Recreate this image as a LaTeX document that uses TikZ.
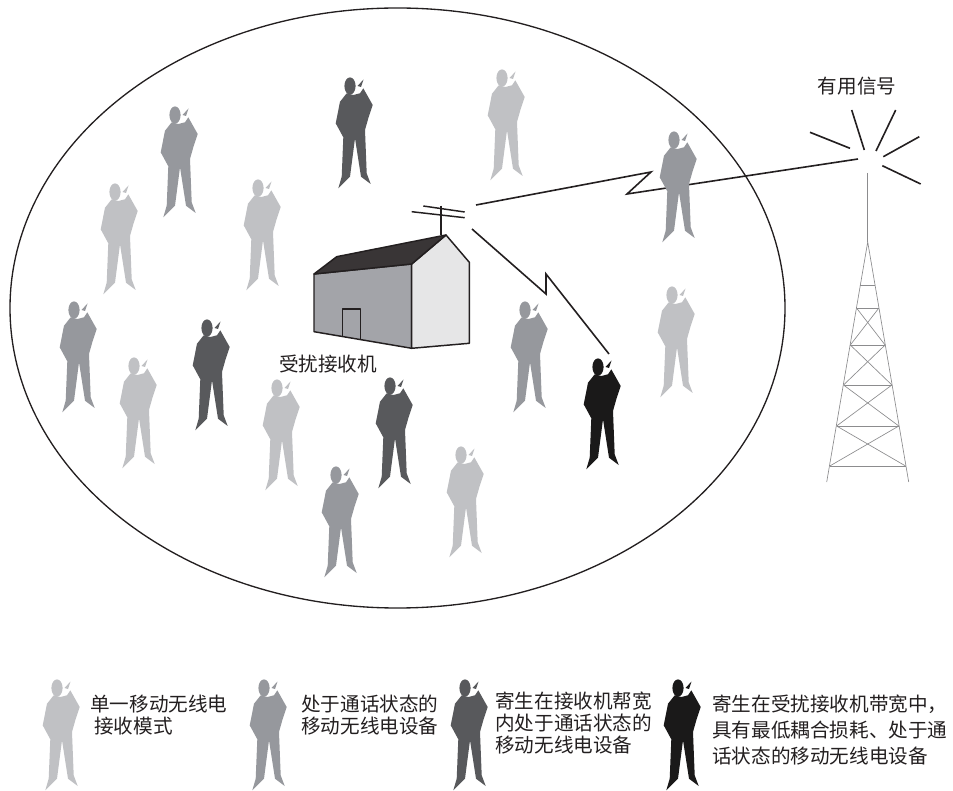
\documentclass[tikz,border=0pt]{standalone}
\usepackage{fontspec}
\usepackage{xcolor}
\setmainfont{Noto Sans CJK SC}
\usetikzlibrary{positioning}
\definecolor{lightcolor}{RGB}{192,193,196}
\definecolor{midcolor}{RGB}{150,152,157}
\definecolor{darkcolor}{RGB}{88,89,92}
\definecolor{blackcolor}{RGB}{26,25,25}
\definecolor{inkcolor}{RGB}{35,31,32}
\definecolor{towercolor}{RGB}{140,140,142}
\tikzset{
    person/.pic={
        \path[pic actions] (0,0) ellipse [x radius=5.6, y radius=8.6];
        \path[pic actions] (-3.3,7.3) -- (-10,15.7) -- (-14.3,37.3) -- (-6.7,51.3) -- (-8.3,90.7) -- (-11.7,102.3)
            -- (0,90.7) -- (5,52.3) -- (11,90.7) -- (20.7,98) -- (16.7,87.3) -- (15,44) -- (18.3,32.3) -- (22.7,19)
            -- (13.3,2.3) -- (10,7.3) -- (3.3,9) -- cycle;
        \path[pic actions] (7.5,0) -- (13.5,-6.5) -- (11,1) -- cycle;
    }
}
\begin{document}
\begin{tikzpicture}[
    x=0.75pt, y=-0.75pt,
    lightman/.style={fill=lightcolor},
    midman/.style={fill=midcolor},
    darkman/.style={fill=darkcolor},
    blackman/.style={fill=blackcolor},
    label/.style={font=\fontsize{14.7}{16.5}\selectfont, text=inkcolor, inner sep=0pt, align=left},
    signal/.style={draw=inkcolor, line width=1.2pt, line join=miter},
    house/.style={draw=inkcolor, line width=1.1pt, line join=round},
    tower/.style={draw=towercolor, line width=0.5pt}
]
\useasboundingbox (0,0) rectangle (953,791);

% Coverage area
\draw[inkcolor, line width=1pt] (397.5,308) ellipse [x radius=387.5, y radius=300];

% Signal paths
\coordinate (antennaA) at (476,205);
\coordinate (antennaB) at (472,229);
\coordinate (towertop) at (858,159);
\coordinate (victim) at (609,354);
\draw[signal] (antennaA) -- (651,172) -- (627,194) -- (towertop);
\draw[signal] (antennaB) -- (546,294) -- (546,274) -- (victim);

% Phones in the cell
\pic[darkman] (p1) at (350,86) {person};
\pic[lightman] (p2) at (502,78) {person};
\pic[midman] (p3) at (175,115) {person};
\pic[lightman] (p4) at (115,192) {person};
\pic[lightman] (p5) at (258,188) {person};
\pic[midman] (p6) at (674,140) {person};
\pic[midman] (p7) at (74,310) {person};
\pic[darkman] (p8) at (207,328) {person};
\pic[lightman] (p9) at (134,366) {person};
\pic[midman] (p10) at (525,310) {person};
\pic[lightman] (p11) at (672,295) {person};
\pic[blackman] (p12) at (598,367) {person};
\pic[lightman] (p13) at (277,388) {person};
\pic[darkman] (p14) at (390,386) {person};
\pic[lightman] (p15) at (461,455) {person};
\pic[midman] (p16) at (336,475) {person};

% House with antenna
\filldraw[house, fill=midcolor!70!lightcolor] (314,274) -- (411.7,264) -- (411.7,348.3) -- (314,331.7) -- cycle;
\filldraw[house, fill=lightcolor!40] (411.7,264) -- (446,235) -- (469.3,262.3) -- (469.3,343.3) -- (411.7,348.3) -- cycle;
\filldraw[house, fill=inkcolor!90] (314,274) -- (336.7,256.7) -- (446,235) -- (411.7,264) -- cycle;
\draw[house] (342.7,336.7) -- (342.7,309) -- (360.3,309) -- (360.3,339.3);
\draw[house] (441,205.7) -- (441,235);
\draw[house] (423.3,206) -- (464.7,212);
\draw[house] (411.7,211.7) -- (464.7,217.7);

% Tower
\draw[tower] (867.7,173) -- (867.7,242);
\draw[tower] (826.7,482) -- (867.7,242) -- (908.7,482);
\draw[tower] (860.4,285) -- (875,285);
\draw[tower] (856.5,308) -- (878.9,308);
\draw[tower] (850.3,345) -- (885.1,345);
\draw[tower] (843.5,385) -- (891.9,385);
\draw[tower] (836.6,426) -- (898.8,426);
\draw[tower] (829.8,466) -- (905.6,466);
\draw[tower] (856.5,308) -- (885.1,345);
\draw[tower] (878.9,308) -- (850.3,345);
\draw[tower] (850.3,345) -- (891.9,385);
\draw[tower] (885.1,345) -- (843.5,385);
\draw[tower] (843.5,385) -- (898.8,426);
\draw[tower] (891.9,385) -- (836.6,426);
\draw[tower] (836.6,426) -- (905.6,466);
\draw[tower] (898.8,426) -- (829.8,466);

% Rays at the tower top
\draw[signal] (851.7,110) -- (864.3,150);
\draw[signal] (895.7,110) -- (876,151);
\draw[signal] (919.3,136.7) -- (883.3,156.7);
\draw[signal] (920.7,184) -- (882.3,165.7);
\draw[signal] (810,132.3) -- (850,148.3);

% Labels
\node[label] (useful) at (857,86) {有用信号};
\node[label] (receiver) at (328,364) {受扰接收机};

% Legend
\pic[lightman] (k1) at (57,688) {person};
\pic[midman] (k2) at (264,688) {person};
\pic[darkman] (k3) at (465,688) {person};
\pic[blackman] (k4) at (678,688) {person};
\node[label, anchor=west] (t1) at (90,715) {单一移动无线电\\\hspace{3pt}接收模式};
\node[label, anchor=west] (t2) at (301,715) {处于通话状态的\\移动无线电设备};
\node[label, anchor=west] (t3) at (495,723) {寄生在接收机帮宽\\内处于通话状态的\\移动无线电设备};
\node[label, anchor=west, font=\fontsize{14.7}{19.5}\selectfont] (t4) at (712,730) {寄生在受扰接收机带宽中，\\具有最低耦合损耗、处于通\\话状态的移动无线电设备};
\end{tikzpicture}
\end{document}
